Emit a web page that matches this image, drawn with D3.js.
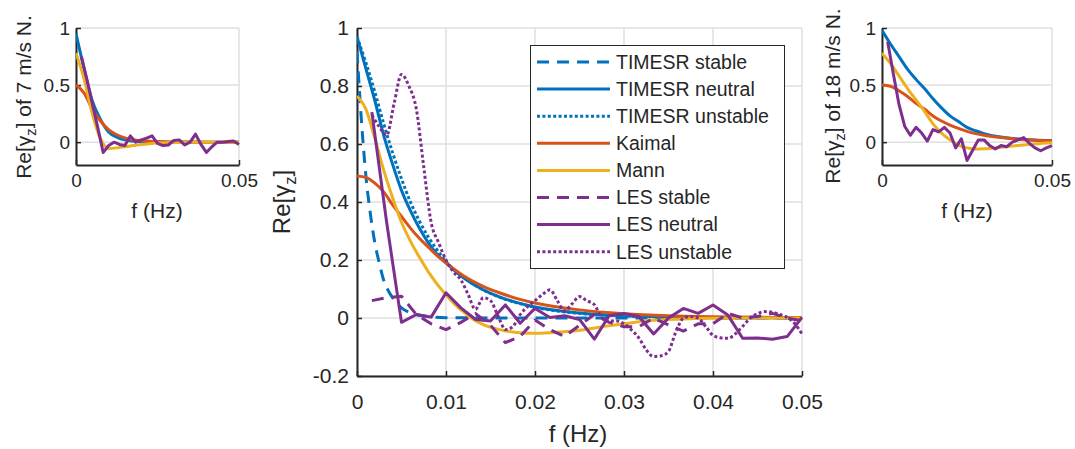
<!DOCTYPE html>
<html lang="en">
<head>
<meta charset="UTF-8">
<title>Coherence</title>
<script src="https://cdn.jsdelivr.net/npm/d3@7"></script>
<style>
  body { margin: 0; background: #fff; }
  text { font-family: "Liberation Sans", Arial, sans-serif; fill: #262626; }
</style>
</head>
<body>
<svg id="chart" width="1075" height="449"></svg>
<script>
// ---- data ----
// LES spectra are sampled every 1/600 Hz
const lesF = [0.00167, 0.00333, 0.005, 0.00667, 0.00833, 0.01, 0.01167, 0.01333, 0.015, 0.01667,
  0.01833, 0.02, 0.02167, 0.02333, 0.025, 0.02667, 0.02833, 0.03, 0.03167, 0.03333,
  0.035, 0.03667, 0.03833, 0.04, 0.04167, 0.04333, 0.045, 0.04667, 0.04833, 0.05];

// main panel
const stableF = [0, 0.0005, 0.001, 0.0015, 0.002, 0.0025, 0.003, 0.0035, 0.004, 0.005, 0.006, 0.008, 0.01, 0.02, 0.05];
const timesrStable = [0.92, 0.68, 0.49, 0.36, 0.26, 0.19, 0.13, 0.095, 0.07, 0.035, 0.018, 0.005, 0.001, 0, 0];

const theoryF = [0, 0.001, 0.002, 0.003, 0.004, 0.005, 0.006, 0.007, 0.008, 0.009, 0.01, 0.012,
  0.014, 0.016, 0.018, 0.02, 0.025, 0.03, 0.035, 0.04, 0.045, 0.05];
const timesrNeutral = [0.97, 0.86, 0.75, 0.63, 0.53, 0.44, 0.37, 0.31, 0.26, 0.22, 0.19, 0.138,
  0.10, 0.073, 0.053, 0.038, 0.017, 0.0075, 0.0034, 0.0015, 0.0007, 0.0003];
const timesrUnstable = [0.97, 0.88, 0.78, 0.67, 0.57, 0.48, 0.40, 0.335, 0.28, 0.235, 0.195, 0.14,
  0.10, 0.072, 0.052, 0.037, 0.016, 0.007, 0.003, 0.0015, 0.0007, 0.0003];
const kaimal = [0.49, 0.485, 0.465, 0.435, 0.39, 0.35, 0.31, 0.275, 0.245, 0.215, 0.19, 0.145,
  0.112, 0.087, 0.067, 0.052, 0.028, 0.015, 0.008, 0.0045, 0.0025, 0.0014];

const mannF = [0, 0.001, 0.002, 0.003, 0.004, 0.005, 0.006, 0.007, 0.008, 0.009, 0.01, 0.011, 0.012,
  0.013, 0.014, 0.016, 0.018, 0.02, 0.022, 0.025, 0.028, 0.03, 0.033, 0.036, 0.04, 0.05];
const mann = [0.765, 0.72, 0.62, 0.51, 0.415, 0.33, 0.265, 0.21, 0.16, 0.117, 0.08, 0.047, 0.02,
  -0.003, -0.02, -0.04, -0.05, -0.053, -0.05, -0.042, -0.028, -0.02, -0.009, -0.004, -0.001, 0];

const lesStable = [0.06, 0.07, 0.075, 0.012, -0.02, -0.04, -0.015, 0.015, -0.025, -0.085,
  -0.064, -0.007, -0.04, -0.064, -0.025, 0.012, -0.015, -0.03, -0.03, 0.0,
  -0.024, -0.045, -0.02, -0.02, 0.016, 0.0, 0.005, 0.016, 0.0, -0.01];
const lesNeutral = [0.71, 0.33, -0.015, 0.012, 0.003, 0.087, 0.035, -0.005, -0.01, 0.045,
  -0.018, 0.033, 0.002, 0.008, -0.005, -0.073, 0.008, 0.016, 0.005, -0.055,
  0.0, 0.033, 0.016, 0.045, 0.01, -0.07, -0.069, -0.073, -0.064, 0.002];

const lesUnstableF = [0.00167, 0.0025, 0.00333, 0.00417, 0.005, 0.00583, 0.00667, 0.0075, 0.00833, 0.00917,
  0.01, 0.0108, 0.0117, 0.0125, 0.0133, 0.0142, 0.015, 0.0158, 0.0167, 0.0175,
  0.0183, 0.0192, 0.02, 0.0208, 0.0217, 0.0225, 0.0233, 0.0242, 0.025, 0.0258,
  0.0267, 0.0275, 0.0283, 0.0292, 0.03, 0.0308, 0.0317, 0.0325, 0.0333, 0.0342,
  0.035, 0.0358, 0.0367, 0.0375, 0.0383, 0.0392, 0.04, 0.0408, 0.0417, 0.0425,
  0.0433, 0.0442, 0.045, 0.0458, 0.0467, 0.0475, 0.0483, 0.0492, 0.05];
const lesUnstable = [0.70, 0.66, 0.63, 0.74, 0.84, 0.80, 0.72, 0.52, 0.33, 0.26,
  0.20, 0.16, 0.13, 0.08, 0.03, 0.07, 0.06, 0.01, -0.04, -0.03,
  0.01, 0.04, 0.06, 0.08, 0.097, 0.06, 0.025, 0.05, 0.074, 0.06,
  0.045, 0.0, -0.01, -0.01, -0.02, -0.04, -0.07, -0.11, -0.133, -0.13,
  -0.115, -0.05, 0.0, 0.005, 0.0, -0.03, -0.06, -0.068, -0.07, -0.055,
  -0.03, 0.0, 0.015, 0.022, 0.02, 0.012, 0.003, -0.02, -0.055];

// 7 m/s panel
const sideF = [0, 0.0025, 0.005, 0.0075, 0.01, 0.0125, 0.015, 0.0175, 0.02, 0.0225, 0.025,
  0.0275, 0.03, 0.035, 0.04, 0.045, 0.05];
const neutral7 = [0.95, 0.64, 0.36, 0.2, 0.09, 0.045, 0.02, 0.01, 0.005, 0.002, 0.001, 0, 0, 0, 0, 0, 0];
const kaimal7 = [0.50, 0.43, 0.29, 0.185, 0.11, 0.065, 0.038, 0.022, 0.013, 0.008, 0.005, 0.003, 0.002, 0.001, 0, 0, 0];
const mann7 = [0.78, 0.55, 0.25, 0.03, -0.055, -0.05, -0.04, -0.03, -0.02, -0.013, -0.008, -0.005, -0.003, 0, 0, 0, 0];
const les7 = [0.75, 0.55, 0.34, 0.13, -0.09, -0.03, 0.0, -0.02, -0.03, 0.055,
  0.0, 0.02, 0.035, 0.055, -0.01, -0.03, -0.025, 0.015, 0.02, -0.025,
  0.0, 0.07, -0.02, -0.09, -0.04, 0.0, 0.0, 0.005, 0.01, -0.02];

// 18 m/s panel
const neutral18 = [0.98, 0.86, 0.75, 0.64, 0.55, 0.47, 0.38, 0.30, 0.23, 0.18, 0.13, 0.10, 0.075, 0.045, 0.028, 0.018, 0.012];
const kaimal18 = [0.50, 0.49, 0.45, 0.40, 0.34, 0.29, 0.23, 0.185, 0.15, 0.12, 0.095, 0.075, 0.06, 0.04, 0.025, 0.017, 0.012];
const mann18 = [0.78, 0.69, 0.58, 0.47, 0.37, 0.27, 0.16, 0.08, 0.02, -0.025, -0.05, -0.06, -0.058, -0.045, -0.03, -0.015, -0.005];
const les18 = [0.88, 0.60, 0.33, 0.14, 0.06, 0.13, 0.08, 0.01, 0.11, 0.09,
  0.13, 0.08, -0.05, 0.03, -0.16, -0.07, 0.02, 0.02, -0.03, -0.06,
  -0.03, -0.04, 0.0, 0.02, 0.04, -0.01, -0.05, -0.075, -0.05, -0.03];

const seriesNames = ["TIMESR stable", "TIMESR neutral", "TIMESR unstable", "Kaimal", "Mann",
  "LES stable", "LES neutral", "LES unstable"];

// ---- styling ----
const blue = "#0072BD", orange = "#D95319", yellow = "#EDB120", purple = "#7E2F8E";
const dashed = "12,8", dotted = "3,2.4";
const axisColor = "#262626", gridColor = "#dfdfdf";

// plain hyphen minus, like MATLAB tick labels
const tickFmt = d => String(+d.toFixed(3));

const svg = d3.select("#chart");

function panel(box, xTicks, yTicks, opt) {
  const x = d3.scaleLinear().domain([0, 0.05]).range([box.left, box.right]);
  const y = d3.scaleLinear().domain([-0.2, 1]).range([box.bottom, box.top]);
  const g = svg.append("g");

  // grid
  g.append("g").selectAll("line").data(yTicks).join("line")
    .attr("x1", box.left).attr("x2", box.right)
    .attr("y1", d => y(d)).attr("y2", d => y(d))
    .attr("stroke", gridColor).attr("stroke-width", 1.5);
  g.append("g").selectAll("line").data(xTicks).join("line")
    .attr("x1", d => x(d)).attr("x2", d => x(d))
    .attr("y1", box.top).attr("y2", box.bottom)
    .attr("stroke", gridColor).attr("stroke-width", 1.5);

  const xAxis = g.append("g")
    .attr("transform", `translate(0,${box.bottom})`)
    .call(d3.axisBottom(x).tickValues(xTicks).tickFormat(tickFmt)
      .tickSizeInner(-5).tickSizeOuter(0).tickPadding(opt.xPad));
  const yAxis = g.append("g")
    .attr("transform", `translate(${box.left},0)`)
    .call(d3.axisLeft(y).tickValues(yTicks).tickFormat(tickFmt)
      .tickSizeInner(-5).tickSizeOuter(0).tickPadding(opt.yPad));
  [xAxis, yAxis].forEach(a => {
    a.select(".domain").attr("stroke", axisColor).attr("stroke-width", 2);
    a.selectAll(".tick line").attr("stroke", axisColor).attr("stroke-width", 1.5);
    a.selectAll(".tick text").attr("fill", axisColor)
      .style("font-size", opt.tickSize + "px");
  });

  const clip = "clip" + box.left;
  svg.append("clipPath").attr("id", clip).append("rect")
    .attr("x", box.left).attr("y", box.top - 2)
    .attr("width", box.right - box.left + 2).attr("height", box.bottom - box.top + 2);
  const lines = g.append("g").attr("clip-path", `url(#${clip})`);
  return { x, y, g, lines };
}

function addLine(p, fs, vs, color, dash, curve) {
  const line = d3.line()
    .x(d => p.x(d[0])).y(d => p.y(d[1]))
    .curve(curve || d3.curveLinear);
  p.lines.append("path")
    .datum(fs.map((f, i) => [f, vs[i]]))
    .attr("d", line)
    .attr("fill", "none")
    .attr("stroke", color)
    .attr("stroke-width", 3)
    .attr("stroke-dasharray", dash || null)
    .attr("stroke-linejoin", "round");
}

function yLabel(x, y, size, rest) {
  const t = svg.append("text")
    .attr("transform", `translate(${x},${y}) rotate(-90)`)
    .attr("text-anchor", "middle")
    .style("font-size", size + "px");
  t.append("tspan").text("Re[γ");
  t.append("tspan").text("z").attr("dy", size * 0.25).style("font-size", (size * 0.7) + "px");
  t.append("tspan").text("]" + rest).attr("dy", -size * 0.25);
}

function xLabel(x, y, size) {
  svg.append("text").attr("x", x).attr("y", y)
    .attr("text-anchor", "middle").style("font-size", size + "px")
    .text("f (Hz)");
}

const smooth = d3.curveMonotoneX;

// ---- left panel: 7 m/s ----
const pL = panel({ left: 76, right: 239, top: 28, bottom: 165 }, [0, 0.05], [0, 0.5, 1],
  { xPad: 9, yPad: 6, tickSize: 19 });
addLine(pL, sideF, neutral7, blue, null, smooth);
addLine(pL, sideF, kaimal7, orange, null, smooth);
addLine(pL, sideF, mann7, yellow, null, smooth);
addLine(pL, lesF, les7, purple);
yLabel(31, 97, 21, " of 7 m/s N.");
xLabel(157, 218, 21);

// ---- right panel: 18 m/s ----
const pR = panel({ left: 882, right: 1052, top: 28, bottom: 165 }, [0, 0.05], [0, 0.5, 1],
  { xPad: 9, yPad: 6, tickSize: 19 });
addLine(pR, sideF, neutral18, blue, null, smooth);
addLine(pR, sideF, kaimal18, orange, null, smooth);
addLine(pR, sideF, mann18, yellow, null, smooth);
addLine(pR, lesF, les18, purple);
yLabel(840, 96, 21, " of 18 m/s N.");
xLabel(967, 218, 21);

// ---- main panel ----
const pM = panel({ left: 357, right: 802, top: 28, bottom: 376 },
  [0, 0.01, 0.02, 0.03, 0.04, 0.05], [-0.2, 0, 0.2, 0.4, 0.6, 0.8, 1],
  { xPad: 18, yPad: 8, tickSize: 21 });
addLine(pM, stableF, timesrStable, blue, dashed, smooth);
addLine(pM, theoryF, timesrNeutral, blue, null, smooth);
addLine(pM, theoryF, timesrUnstable, blue, dotted, smooth);
addLine(pM, theoryF, kaimal, orange, null, smooth);
addLine(pM, mannF, mann, yellow, null, smooth);
addLine(pM, lesF, lesStable, purple, dashed);
addLine(pM, lesF, lesNeutral, purple);
addLine(pM, lesUnstableF, lesUnstable, purple, dotted, smooth);
yLabel(290, 202, 24, "");
xLabel(578, 442, 24);

// ---- legend ----
const legendStyle = [
  [blue, dashed], [blue, null], [blue, dotted], [orange, null], [yellow, null],
  [purple, dashed], [purple, null], [purple, dotted]];
const leg = svg.append("g");
leg.append("rect").attr("x", 530.5).attr("y", 45.5).attr("width", 254).attr("height", 223)
  .attr("fill", "#fff").attr("stroke", axisColor).attr("stroke-width", 1);
const rows = leg.selectAll("g.row").data(seriesNames).join("g")
  .attr("class", "row")
  .attr("transform", (d, i) => `translate(0,${62 + i * 27.1})`);
rows.append("line").attr("x1", 537).attr("x2", 610)
  .attr("stroke", (d, i) => legendStyle[i][0])
  .attr("stroke-dasharray", (d, i) => legendStyle[i][1])
  .attr("stroke-width", 3);
rows.append("text").attr("x", 616).attr("dy", "0.35em")
  .style("font-size", "19.5px").text(d => d);
</script>
</body>
</html>
